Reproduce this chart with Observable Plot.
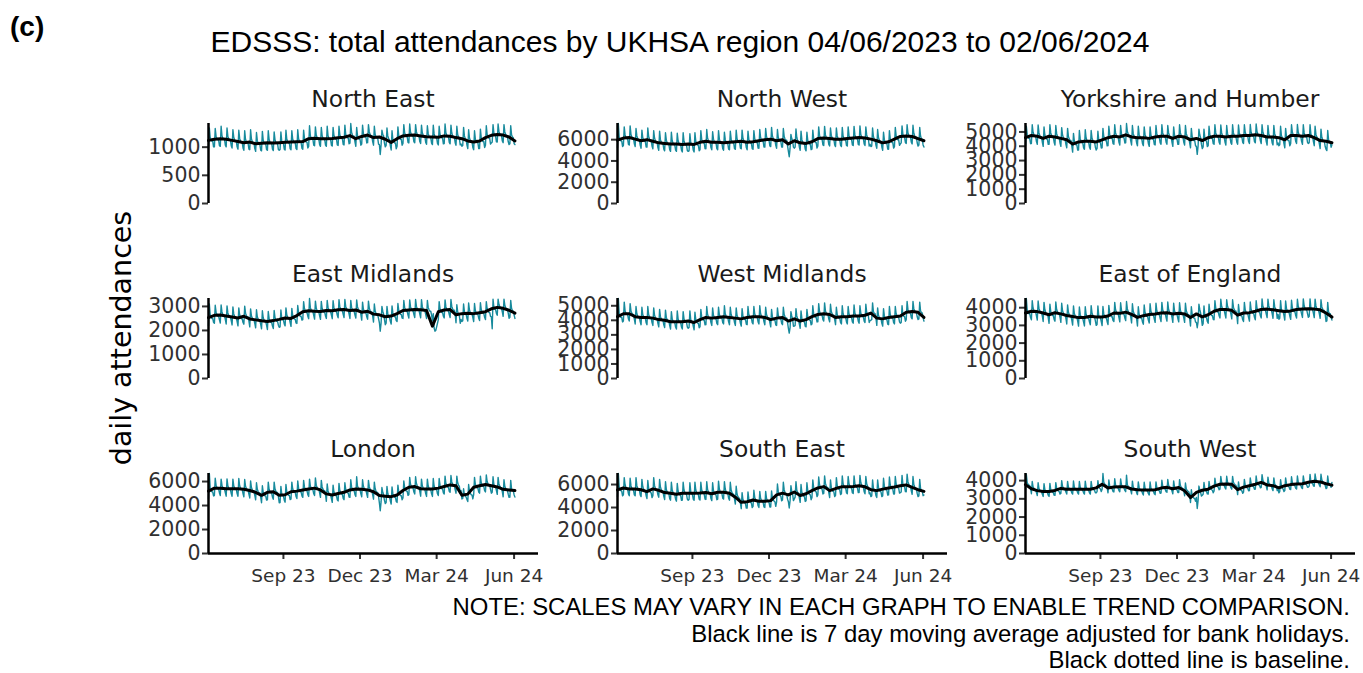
<!DOCTYPE html>
<html>
<head>
<meta charset="utf-8">
<script src="https://cdn.jsdelivr.net/npm/d3@7"></script>
<script src="https://cdn.jsdelivr.net/npm/@observablehq/plot@0.6"></script>
<style>
  html, body { margin: 0; padding: 0; background: #ffffff; }
  #root { position: relative; width: 1363px; height: 673px; overflow: hidden; background: #ffffff; }
  #root svg g[aria-label="y-axis tick"], #root svg g[aria-label="x-axis tick"] { stroke-width: 2px; }
  #root svg .tick line { stroke-width: 2px; }
</style>
</head>
<body>
<div id="root"></div>
<script>
// ---------------- DATA ----------------
const regions = ["North East", "North West", "Yorkshire and Humber",
                 "East Midlands", "West Midlands", "East of England",
                 "London", "South East", "South West"];
const firstDay = "2023-06-04";   // first daily value (Sunday); weekly averages start on the same day, one per week

const northEastDaily = [
985,1340,1175,1130,1110,1110,1005, 1005,1330,1195,1150,1130,1130,1025,
1015,1370,1205,1160,1140,1140,1035, 1005,1340,1195,1150,1130,1130,1025,
985,1310,1175,1130,1110,1110,1005, 965,1300,1155,1110,1090,1090,985,
945,1290,1135,1090,1070,1070,965, 955,1310,1145,1100,1080,1080,975,
925,1260,1115,1070,1050,1050,945, 935,1280,1125,1080,1060,1060,955,
945,1290,1135,1090,1070,1070,965, 940,1270,1130,1085,1065,1065,960,
945,960,1270,1110,1080,1070,965, 950,1300,1140,1095,1075,1075,970,
955,1290,1145,1100,1080,1080,975, 960,1310,1150,1105,1085,1085,980,
965,1300,1155,1110,1090,1090,985, 1015,1380,1205,1160,1140,1140,1035,
1025,1360,1215,1170,1150,1150,1045, 1015,1350,1205,1160,1140,1140,1035,
1015,1370,1205,1160,1140,1140,1035, 1020,1350,1210,1165,1145,1145,1040,
1030,1370,1220,1175,1155,1155,1050, 1040,1390,1230,1185,1165,1165,1060,
1070,1420,1260,1215,1195,1195,1090, 1015,1350,1205,1160,1140,1140,1035,
1055,1390,1245,1200,1180,1180,1075, 1080,1400,1270,1225,1205,1205,1100,
1035,1370,1225,1180,1160,1160,1055, 1045,870,1040,1300,1230,1200,1070,
1005,1030,1340,1200,1150,1130,1025, 950,1290,1140,1095,1075,1075,970,
1015,1360,1205,1160,1140,1140,1035, 1065,1400,1255,1210,1190,1190,1085,
1075,1410,1265,1220,1200,1200,1095, 1080,1400,1270,1225,1205,1205,1100,
1065,1390,1255,1210,1190,1190,1085, 1050,1380,1240,1195,1175,1175,1070,
1045,1390,1235,1190,1170,1170,1065, 1040,1370,1230,1185,1165,1165,1060,
1065,1410,1255,1210,1190,1190,1085, 1060,1390,1250,1205,1185,1185,1080,
1035,1370,1225,1180,1160,1040,1055, 1015,1030,1350,1200,1150,1140,1035,
975,1310,1165,1120,1100,1100,995, 955,1290,1145,1100,1080,1080,975,
975,1320,1165,1120,1100,1100,995, 1035,1380,1225,1180,1160,1160,1055,
1075,1090,1400,1250,1210,1200,1095, 1090,1410,1280,1235,1215,1215,1110,
1080,1400,1270,1225,1205,1205,1100, 1045,1060,1380,1220,1180,1170,1065,
1045];
const northEastAverage = [1120,1140,1150,1140,1120,1100,1080,1090,1060,1070,1080,1075,1080,1085,1090,1095,1100,1150,1160,1150,1150,1155,1165,1175,1205,1150,1190,1215,1170,1180,1140,1085,1150,1200,1210,1215,1200,1185,1180,1175,1200,1195,1170,1150,1110,1090,1110,1170,1210,1225,1215,1180,1110];

const northWestDaily = [
5250,7520,6250,6010,5890,5890,5360, 5450,7200,6450,6210,6090,6090,5560,
5500,7300,6500,6260,6140,6140,5610, 5350,7050,6350,6110,5990,5990,5460,
5200,6900,6200,5960,5840,5840,5310, 5300,7100,6300,6060,5940,5940,5410,
5150,6850,6150,5910,5790,5790,5260, 5000,6800,6000,5760,5640,5640,5110,
4950,6650,5950,5710,5590,5590,5060, 4900,6700,5900,5660,5540,5540,5010,
4900,6600,5900,5660,5540,5540,5010, 4850,6650,5850,5610,5490,5490,4960,
4900,4950,6550,5750,5560,5540,5010, 4850,6650,5850,5610,5490,5490,4960,
5050,6850,6050,5810,5690,5690,5160, 5150,6950,6150,5910,5790,5790,5260,
5050,6750,6050,5810,5690,5690,5160, 5050,6850,6050,5810,5690,5690,5160,
5000,6700,6000,5760,5640,5640,5110, 5050,6800,6050,5810,5690,5690,5160,
5100,6900,6100,5860,5740,5740,5210, 5150,6900,6150,5910,5790,5790,5260,
5050,6800,6050,5810,5690,5690,5160, 5100,6850,6100,5860,5740,5740,5210,
5200,6950,6200,5960,5840,5840,5310, 5300,7050,6300,6060,5940,5940,5410,
5350,7150,6350,6110,5990,5990,5460, 5200,6950,6200,5960,5840,5840,5310,
5300,7050,6300,6060,5940,5940,5410, 4900,4400,5200,6500,6100,5900,5300,
5200,5300,7000,6200,5900,5840,5310, 5000,6800,6000,5760,5640,5640,5110,
4950,6700,5950,5710,5590,5590,5060, 5100,6900,6100,5860,5740,5740,5210,
5400,7200,6400,6160,6040,6040,5510, 5450,7250,6450,6210,6090,6090,5560,
5400,7100,6400,6160,6040,6040,5510, 5350,7100,6350,6110,5990,5990,5460,
5350,7150,6350,6110,5990,5990,5460, 5400,7200,6400,6160,6040,6040,5510,
5450,7250,6450,6210,6090,6090,5560, 5500,7300,6500,6260,6140,6140,5610,
5450,7200,6450,6210,6090,5400,5560, 5350,5400,7100,6300,6050,5990,5460,
5200,6950,6200,5960,5840,5840,5310, 5000,6700,6000,5760,5640,5640,5110,
5100,6850,6100,5860,5740,5740,5210, 5350,7150,6350,6110,5990,5990,5460,
5600,5700,7300,6500,6280,6240,5710, 5650,7400,6650,6410,6290,6290,5760,
5600,7350,6600,6360,6240,6240,5710, 5400,5500,7150,6350,6100,6040,5510,
5300];
const northWestAverage = [5950,6150,6200,6050,5900,6000,5850,5700,5650,5600,5600,5550,5600,5550,5750,5850,5750,5750,5700,5750,5800,5850,5750,5800,5900,6000,6050,5900,6000,5600,5900,5700,5650,5800,6100,6150,6100,6050,6050,6100,6150,6200,6150,6050,5900,5700,5800,6050,6300,6350,6300,6100,5900];

const yorkshireDaily = [
4040,5400,4830,4650,4550,4550,4180, 4190,5500,4980,4800,4700,4700,4330,
4140,5480,4930,4750,4650,4650,4280, 3990,5350,4780,4600,4500,4500,4130,
4140,5500,4930,4750,4650,4650,4280, 4090,5450,4880,4700,4600,4600,4230,
3990,5300,4780,4600,4500,4500,4130, 3890,5250,4680,4500,4400,4400,4030,
3590,4900,4380,4200,4100,4100,3730, 3740,5100,4530,4350,4250,4250,3880,
3790,5150,4580,4400,4300,4300,3930, 3790,5100,4580,4400,4300,4300,3930,
3740,3850,5050,4450,4280,4250,3880, 3890,5250,4680,4500,4400,4400,4030,
4040,5400,4830,4650,4550,4550,4180, 4140,5500,4930,4750,4650,4650,4280,
4090,5450,4880,4700,4600,4600,4230, 4240,5590,5030,4850,4750,4750,4380,
4090,5450,4880,4700,4600,4600,4230, 4040,5400,4830,4650,4550,4550,4180,
4040,5350,4830,4650,4550,4550,4180, 3990,5350,4780,4600,4500,4500,4130,
4090,5450,4880,4700,4600,4600,4230, 4140,5500,4930,4750,4650,4650,4280,
4140,5450,4930,4750,4650,4650,4280, 3990,5350,4780,4600,4500,4500,4130,
4140,5500,4930,4750,4650,4650,4280, 4090,5450,4880,4700,4600,4600,4230,
3890,5250,4680,4500,4400,4400,4030, 3990,3430,4000,5200,4800,4600,4130,
3840,3950,5200,4600,4400,4350,3980, 4040,5400,4830,4650,4550,4550,4180,
4140,5500,4930,4750,4650,4650,4280, 4140,5480,4930,4750,4650,4650,4280,
4090,5450,4880,4700,4600,4600,4230, 4140,5500,4930,4750,4650,4650,4280,
4140,5480,4930,4750,4650,4650,4280, 4190,5500,4980,4800,4700,4700,4330,
4190,5520,4980,4800,4700,4700,4330, 4240,5550,5030,4850,4750,4750,4380,
4190,5500,4980,4800,4700,4700,4330, 4090,5450,4880,4700,4600,4600,4230,
4090,5450,4880,4700,4600,4100,4230, 4040,4100,5400,4750,4600,4550,4180,
3890,5250,4680,4500,4400,4400,4030, 4190,5500,4980,4800,4700,4700,4330,
4190,5520,4980,4800,4700,4700,4330, 4140,5500,4930,4750,4650,4650,4280,
4190,4250,5500,4850,4720,4700,4330, 4040,5400,4830,4650,4550,4550,4180,
3840,5200,4630,4450,4350,4350,3980, 3790,3700,5100,4450,4320,4300,3930,
4100];
const yorkshireAverage = [4600,4750,4700,4550,4700,4650,4550,4450,4150,4300,4350,4350,4300,4450,4600,4700,4650,4800,4650,4600,4600,4550,4650,4700,4700,4550,4700,4650,4450,4550,4400,4600,4700,4700,4650,4700,4700,4750,4750,4800,4750,4650,4650,4600,4450,4750,4750,4700,4750,4600,4400,4350,4250];

const eastMidlandsDaily = [
2200,3100,2660,2560,2500,2500,2340, 2300,3050,2760,2660,2600,2600,2440,
2310,3060,2770,2670,2610,2610,2450, 2270,3020,2730,2630,2570,2570,2410,
2230,2980,2690,2590,2530,2530,2370, 2190,2940,2650,2550,2490,2490,2330,
2260,3010,2720,2620,2560,2560,2400, 2150,2900,2610,2510,2450,2450,2290,
2110,2860,2570,2470,2410,2410,2250, 2070,2820,2530,2430,2370,2370,2210,
2040,2790,2500,2400,2340,2340,2180, 2080,2830,2540,2440,2380,2380,2220,
2130,2150,2850,2520,2450,2430,2270, 2190,2940,2650,2550,2490,2490,2330,
2170,2920,2630,2530,2470,2470,2310, 2290,3040,2750,2650,2590,2590,2430,
2450,3200,2910,2810,2750,2750,2590, 2490,3330,2950,2850,2790,2790,2630,
2470,3220,2930,2830,2770,2770,2610, 2460,3210,2920,2820,2760,2760,2600,
2500,3250,2960,2860,2800,2800,2640, 2490,3240,2950,2850,2790,2790,2630,
2530,3280,2990,2890,2830,2830,2670, 2540,3290,3000,2900,2840,2840,2680,
2500,3250,2960,2860,2800,2800,2640, 2520,3270,2980,2880,2820,2820,2660,
2430,3180,2890,2790,2730,2730,2570, 2470,3220,2930,2830,2770,2770,2610,
2350,3100,2810,2710,2650,2650,2490, 2320,1970,2300,3000,2800,2680,2460,
2240,2300,3000,2700,2560,2540,2380, 2270,3020,2730,2630,2570,2570,2410,
2370,3120,2830,2730,2670,2670,2510, 2500,3250,2960,2860,2800,2800,2640,
2520,3270,2980,2880,2820,2820,2660, 2540,3290,3000,2900,2840,2840,2680,
2530,3280,2990,2890,2830,2830,2670, 2500,3250,2960,2860,2800,2800,2640,
2400,2700,2100,1970,2000,2150,2300, 2450,3200,2910,2810,2750,2750,2590,
2520,3270,2980,2880,2820,2820,2660, 2540,3290,3000,2900,2840,2840,2680,
2320,3070,2780,2680,2620,2300,2460, 2370,2400,3100,2780,2700,2670,2510,
2390,3140,2850,2750,2690,2690,2530, 2370,3120,2830,2730,2670,2670,2510,
2410,3160,2870,2770,2710,2710,2550, 2450,3200,2910,2810,2750,2750,2590,
2570,2070,3300,2960,2890,2870,2710, 2630,3300,3090,2990,2930,2930,2770,
2590,3300,3050,2950,2890,2890,2730, 2510,2550,3250,2920,2830,2810,2650,
2500];
const eastMidlandsAverage = [2530,2630,2640,2600,2560,2520,2590,2480,2440,2400,2370,2410,2460,2520,2500,2620,2780,2820,2800,2790,2830,2820,2860,2870,2830,2850,2760,2800,2680,2650,2570,2600,2700,2830,2850,2870,2860,2830,2180,2780,2850,2870,2650,2700,2720,2700,2740,2780,2900,2960,2920,2840,2720];

const westMidlandsDaily = [
3750,5500,4450,4290,4210,4210,3890, 3950,5250,4650,4490,4410,4410,4090,
3950,5150,4650,4490,4410,4410,4090, 3750,4950,4450,4290,4210,4210,3890,
3700,4900,4400,4240,4160,4160,3840, 3700,4950,4400,4240,4160,4160,3840,
3650,4850,4350,4190,4110,4110,3790, 3550,4750,4250,4090,4010,4010,3690,
3500,4700,4200,4040,3960,3960,3640, 3400,4600,4100,3940,3860,3860,3540,
3400,4650,4100,3940,3860,3860,3540, 3400,4600,4100,3940,3860,3860,3540,
3450,3500,4650,4050,3930,3910,3590, 3350,4550,4050,3890,3810,3810,3490,
3550,4750,4250,4090,4010,4010,3690, 3700,4950,4400,4240,4160,4160,3840,
3650,4850,4350,4190,4110,4110,3790, 3700,4900,4400,4240,4160,4160,3840,
3750,5000,4450,4290,4210,4210,3890, 3700,4900,4400,4240,4160,4160,3840,
3650,4850,4350,4190,4110,4110,3790, 3600,4800,4300,4140,4060,4060,3740,
3700,4950,4400,4240,4160,4160,3840, 3750,4950,4450,4290,4210,4210,3890,
3750,5000,4450,4290,4210,4210,3890, 3700,4900,4400,4240,4160,4160,3840,
3550,4750,4250,4090,4010,4010,3690, 3650,4850,4350,4190,4110,4110,3790,
3700,4900,4400,4240,4160,4160,3840, 3450,3120,3500,4600,4300,4100,3590,
3600,3650,4800,4300,4100,4060,3740, 3450,4650,4150,3990,3910,3910,3590,
3550,4750,4250,4090,4010,4010,3690, 3750,5000,4450,4290,4210,4210,3890,
3900,5150,4600,4440,4360,4360,4040, 3950,5200,4650,4490,4410,4410,4090,
3900,5100,4600,4440,4360,4360,4040, 3700,4900,4400,4240,4160,4160,3840,
3750,5000,4450,4290,4210,4210,3890, 3750,4950,4450,4290,4210,4210,3890,
3800,5050,4500,4340,4260,4260,3940, 3800,5000,4500,4340,4260,4260,3940,
3850,5100,4550,4390,4310,3850,3990, 4000,4050,5200,4600,4480,4460,4140,
3650,4850,4350,4190,4110,4110,3790, 3600,4800,4300,4140,4060,4060,3740,
3700,4950,4400,4240,4160,4160,3840, 3750,4950,4450,4290,4210,4210,3890,
3800,3850,5000,4400,4280,4260,3940, 4050,5300,4750,4590,4510,4510,4190,
4100,5300,4800,4640,4560,4560,4240, 4050,4100,5250,4650,4530,4510,4190,
3950];
const westMidlandsAverage = [4250,4450,4450,4250,4200,4200,4150,4050,4000,3900,3900,3900,3950,3850,4050,4200,4150,4200,4250,4200,4150,4100,4200,4250,4250,4200,4050,4150,4200,3950,4100,3950,4050,4250,4400,4450,4400,4200,4250,4250,4300,4300,4350,4500,4150,4100,4200,4250,4300,4550,4600,4550,4200];

const eastEnglandDaily = [
3220,4520,3880,3740,3660,3660,3440, 3320,4400,3980,3840,3760,3760,3540,
3300,4380,3960,3820,3740,3740,3520, 3220,4300,3880,3740,3660,3660,3440,
3120,4200,3780,3640,3560,3560,3340, 3240,4320,3900,3760,3680,3680,3460,
3170,4250,3830,3690,3610,3610,3390, 3080,4160,3740,3600,3520,3520,3300,
3020,4100,3680,3540,3460,3460,3240, 2960,4040,3620,3480,3400,3400,3180,
2970,4050,3630,3490,3410,3410,3190, 3040,4120,3700,3560,3480,3480,3260,
3000,3050,4100,3560,3460,3440,3220, 2990,4070,3650,3510,3430,3430,3210,
3050,4130,3710,3570,3490,3490,3270, 3220,4300,3880,3740,3660,3660,3440,
3200,4280,3860,3720,3640,3640,3420, 3270,4350,3930,3790,3710,3710,3490,
3140,4220,3800,3660,3580,3580,3360, 2970,4050,3630,3490,3410,3410,3190,
3070,4150,3730,3590,3510,3510,3290, 3140,4220,3800,3660,3580,3580,3360,
3170,4250,3830,3690,3610,3610,3390, 3220,4300,3880,3740,3660,3660,3440,
3240,4320,3900,3760,3680,3680,3460, 3170,4250,3830,3690,3610,3610,3390,
3200,4280,3860,3720,3640,3640,3420, 3170,4250,3830,3690,3610,3610,3390,
2970,4050,3630,3490,3410,3410,3190, 3170,2870,3200,4200,3900,3700,3390,
3000,3100,4100,3600,3450,3440,3220, 3120,4200,3780,3640,3560,3560,3340,
3320,4400,3980,3840,3760,3760,3540, 3420,4480,4080,3940,3860,3860,3640,
3420,4450,4080,3940,3860,3860,3640, 3370,4450,4030,3890,3810,3810,3590,
3100,4180,3760,3620,3540,3540,3320, 3220,4300,3880,3740,3660,3660,3440,
3240,4320,3900,3760,3680,3680,3460, 3320,4400,3980,3840,3760,3760,3540,
3420,4500,4080,3940,3860,3860,3640, 3440,4480,4100,3960,3880,3880,3660,
3400,4450,4060,3920,3840,3400,3620, 3350,3400,4400,3900,3800,3790,3570,
3300,4380,3960,3820,3740,3740,3520, 3340,4420,4000,3860,3780,3780,3560,
3420,4480,4080,3940,3860,3860,3640, 3450,4500,4110,3970,3890,3890,3670,
3460,3500,4500,4000,3920,3900,3680, 3440,4480,4100,3960,3880,3880,3660,
3400,4450,4060,3920,3840,3840,3620, 3220,3250,4300,3760,3680,3660,3440,
3300];
const eastEnglandAverage = [3700,3800,3780,3700,3600,3720,3650,3560,3500,3440,3450,3520,3480,3470,3530,3700,3680,3750,3620,3450,3550,3620,3650,3700,3720,3650,3680,3650,3450,3650,3480,3600,3800,3900,3900,3850,3580,3700,3720,3800,3900,3920,3880,3830,3780,3820,3900,3930,3940,3920,3880,3700,3470];

const londonDaily = [
4580,6670,5450,5260,5150,5140,4800, 4830,6270,5700,5510,5400,5390,5050,
4830,6200,5700,5510,5400,5390,5050, 4780,6220,5650,5460,5350,5340,5000,
4780,6200,5650,5460,5350,5340,5000, 4780,6250,5650,5460,5350,5340,5000,
4730,6170,5600,5410,5300,5290,4950, 4630,6050,5500,5310,5200,5190,4850,
4480,5900,5350,5160,5050,5040,4700, 4230,5650,5100,4910,4800,4790,4450,
4480,5950,5350,5160,5050,5040,4700, 4530,5950,5400,5210,5100,5090,4750,
4230,4250,5600,4950,4820,4790,4450, 4280,5750,5150,4960,4850,4840,4500,
4530,5950,5400,5210,5100,5090,4750, 4580,6050,5450,5260,5150,5140,4800,
4680,6100,5550,5360,5250,5240,4900, 4760,6200,5630,5440,5330,5320,4980,
4830,6300,5700,5510,5400,5390,5050, 4680,6100,5550,5360,5250,5240,4900,
4350,5800,5220,5030,4920,4910,4570, 4260,5700,5130,4940,4830,4820,4480,
4380,5850,5250,5060,4950,4940,4600, 4480,5900,5350,5160,5050,5040,4700,
4680,6150,5550,5360,5250,5240,4900, 4760,6400,5630,5440,5330,5320,4980,
4730,6150,5600,5410,5300,5290,4950, 4680,6100,5550,5360,5250,5240,4900,
4530,5950,5400,5210,5100,5090,4750, 4210,3570,4300,5500,5100,4900,4430,
4160,4250,5600,5000,4750,4720,4380, 4120,5550,4990,4800,4690,4680,4340,
4260,5700,5130,4940,4830,4820,4480, 4630,6050,5500,5310,5200,5190,4850,
4900,6350,5770,5580,5470,5460,5120, 4960,6400,5830,5640,5530,5520,5180,
4780,6200,5650,5460,5350,5340,5000, 4760,6200,5630,5440,5330,5320,4980,
4760,6250,5630,5440,5330,5320,4980, 4830,6250,5700,5510,5400,5390,5050,
4960,6450,5830,5640,5530,5520,5180, 5100,6500,5970,5780,5670,5660,5320,
5030,6450,5900,5710,5600,5000,5250, 4550,4600,5400,4900,4800,4700,4500,
4330,5750,5200,5010,4900,4890,4550, 4900,6350,5770,5580,5470,5460,5120,
5030,6450,5900,5710,5600,5590,5250, 5130,6550,6000,5810,5700,5690,5350,
5030,5100,6400,5750,5620,5590,5250, 4930,6350,5800,5610,5500,5490,5150,
4730,6150,5600,5410,5300,5290,4950, 4680,4700,6100,5400,5270,5240,4900,
4700];
const londonAverage = [5200,5450,5450,5400,5400,5400,5350,5250,5100,4850,5100,5150,4850,4900,5150,5200,5300,5380,5450,5300,4970,4880,5000,5100,5300,5380,5350,5300,5150,4830,4780,4740,4880,5250,5520,5580,5400,5380,5380,5450,5580,5720,5650,4850,4950,5520,5650,5750,5650,5550,5350,5300,5250];

const southEastDaily = [
4930,6960,5810,5580,5470,5430,5010, 5100,6600,5980,5750,5640,5600,5180,
5020,6550,5900,5670,5560,5520,5100, 5020,6600,5900,5670,5560,5520,5100,
4950,6450,5830,5600,5490,5450,5030, 4780,6350,5660,5430,5320,5280,4860,
5020,6600,5900,5670,5560,5520,5100, 4900,6450,5780,5550,5440,5400,4980,
4700,6250,5580,5350,5240,5200,4780, 4640,6200,5520,5290,5180,5140,4720,
4550,6100,5430,5200,5090,5050,4630, 4640,6200,5520,5290,5180,5140,4720,
4640,4700,6150,5400,5200,5140,4720, 4640,6200,5520,5290,5180,5140,4720,
4660,6200,5540,5310,5200,5160,4740, 4700,6250,5580,5350,5240,5200,4780,
4600,6150,5480,5250,5140,5100,4680, 4730,6300,5610,5380,5270,5230,4810,
4730,6250,5610,5380,5270,5230,4810, 4640,6200,5520,5290,5180,5140,4720,
4300,5850,5180,4950,4840,4800,4380, 3900,5300,4700,4500,4400,4350,3950,
3950,5350,4750,4550,4450,4400,4000, 4100,5500,4900,4700,4600,4550,4150,
4000,5400,4800,4600,4500,4450,4050, 4000,5400,4800,4600,4500,4450,4050,
4050,5450,4850,4650,4550,4500,4100, 4500,6050,5380,5150,5040,5000,4580,
4650,6200,5530,5300,5190,5150,4730, 4500,3960,4600,5900,5400,5200,4600,
4750,4900,6250,5500,5300,5250,4830, 4450,6000,5330,5100,4990,4950,4530,
4600,6150,5480,5250,5140,5100,4680, 4870,6400,5750,5520,5410,5370,4950,
5100,6650,5980,5750,5640,5600,5180, 5220,6750,6100,5870,5760,5720,5300,
4870,6400,5750,5520,5410,5370,4950, 5050,6600,5930,5700,5590,5550,5130,
5200,6750,6080,5850,5740,5700,5280, 5200,6700,6080,5850,5740,5700,5280,
5220,6750,6100,5870,5760,5720,5300, 5300,6800,6180,5950,5840,5800,5380,
5200,6700,6080,5850,5740,5200,5280, 4950,5000,6400,5700,5500,5450,5030,
4870,6400,5750,5520,5410,5370,4950, 5000,6550,5880,5650,5540,5500,5080,
5100,6650,5980,5750,5640,5600,5180, 5180,6700,6060,5830,5720,5680,5260,
5300,5350,6800,6000,5850,5800,5380, 5370,6900,6250,6020,5910,5870,5450,
5150,6700,6030,5800,5690,5650,5230, 4950,5000,6450,5650,5500,5450,5030,
5100];
const southEastAverage = [5530,5700,5620,5620,5550,5380,5620,5500,5300,5240,5150,5240,5240,5240,5260,5300,5200,5330,5330,5240,4900,4450,4500,4650,4550,4550,4600,5100,5250,5100,5350,5050,5200,5470,5700,5820,5470,5650,5800,5800,5820,5900,5800,5550,5470,5600,5700,5780,5900,5970,5750,5550,5400];

const southWestDaily = [
3510,4350,3890,3800,3750,3720,3580, 3280,3950,3660,3570,3520,3490,3350,
3180,3880,3560,3470,3420,3390,3250, 3130,3830,3510,3420,3370,3340,3200,
3130,3850,3510,3420,3370,3340,3200, 3190,3890,3570,3480,3430,3400,3260,
3300,4000,3680,3590,3540,3510,3370, 3260,3960,3640,3550,3500,3470,3330,
3260,3980,3640,3550,3500,3470,3330, 3260,3950,3640,3550,3500,3470,3330,
3260,3970,3640,3550,3500,3470,3330, 3260,3960,3640,3550,3500,3470,3330,
3330,3400,4000,3650,3580,3540,3400, 3530,4390,3910,3820,3770,3740,3600,
3330,4030,3710,3620,3570,3540,3400, 3380,4100,3760,3670,3620,3590,3450,
3390,4090,3770,3680,3630,3600,3460, 3390,4300,3770,3680,3630,3600,3460,
3270,3970,3650,3560,3510,3480,3340, 3230,3930,3610,3520,3470,3440,3300,
3210,3910,3590,3500,3450,3420,3280, 3210,3920,3590,3500,3450,3420,3280,
3230,3930,3610,3520,3470,3440,3300, 3320,4020,3700,3610,3560,3530,3390,
3360,4060,3740,3650,3600,3570,3430, 3280,3980,3660,3570,3520,3490,3350,
3350,4050,3730,3640,3590,3560,3420, 3170,3870,3550,3460,3410,3380,3240,
2800,3500,3180,3090,3040,3010,2870, 3080,2470,2900,3700,3500,3350,3150,
3200,3250,3900,3580,3450,3410,3270, 3260,3960,3640,3550,3500,3470,3330,
3430,4130,3810,3720,3670,3640,3500, 3530,4230,3910,3820,3770,3740,3600,
3540,4240,3920,3830,3780,3750,3610, 3530,4230,3910,3820,3770,3740,3600,
3230,3930,3610,3520,3470,3440,3300, 3370,4070,3750,3660,3610,3580,3440,
3450,4150,3830,3740,3690,3660,3520, 3530,4250,3910,3820,3770,3740,3600,
3630,4330,4010,3920,3870,3840,3700, 3490,4190,3870,3780,3730,3700,3560,
3450,4150,3830,3740,3690,3450,3520, 3330,3400,4050,3700,3580,3540,3400,
3450,4150,3830,3740,3690,3660,3520, 3510,4210,3890,3800,3750,3720,3580,
3540,4250,3920,3830,3780,3750,3610, 3560,4260,3940,3850,3800,3770,3630,
3640,3700,4340,3950,3880,3850,3710, 3690,4360,4070,3980,3930,3900,3760,
3660,4350,4040,3950,3900,3870,3730, 3560,3600,4250,3880,3800,3770,3630,
3900];
const southWestAverage = [3780,3550,3450,3400,3400,3460,3570,3530,3530,3530,3530,3530,3600,3800,3600,3650,3660,3660,3540,3500,3480,3480,3500,3590,3630,3550,3620,3440,3070,3350,3470,3530,3700,3800,3810,3800,3500,3640,3720,3800,3900,3760,3720,3600,3720,3780,3810,3830,3910,3960,3930,3830,3750];

// axis ticks and labels
const yTickValues = [
  [0, 500, 1000], [0, 2000, 4000, 6000], [0, 1000, 2000, 3000, 4000, 5000],
  [0, 1000, 2000, 3000], [0, 1000, 2000, 3000, 4000, 5000], [0, 1000, 2000, 3000, 4000],
  [0, 2000, 4000, 6000], [0, 2000, 4000, 6000], [0, 1000, 2000, 3000, 4000]
];
const xTickDates = ["2023-09-01", "2023-12-01", "2024-03-01", "2024-06-01"];
const xTickLabels = ["Sep 23", "Dec 23", "Mar 24", "Jun 24"];

const panelLetter = "(c)";
const titleText = "EDSSS: total attendances by UKHSA region 04/06/2023 to 02/06/2024";
const yAxisTitle = "daily attendances";
const noteLines = [
  "NOTE: SCALES MAY VARY IN EACH GRAPH TO ENABLE TREND COMPARISON.",
  "Black line is 7 day moving average adjusted for bank holidays.",
  "Black dotted line is baseline."
];

const dailySeries = [northEastDaily, northWestDaily, yorkshireDaily, eastMidlandsDaily,
  westMidlandsDaily, eastEnglandDaily, londonDaily, southEastDaily, southWestDaily];
const averageSeries = [northEastAverage, northWestAverage, yorkshireAverage, eastMidlandsAverage,
  westMidlandsAverage, eastEnglandAverage, londonAverage, southEastAverage, southWestAverage];

// ---------------- LAYOUT / STYLE ----------------
const FONT = "'DejaVu Sans', 'Liberation Sans', sans-serif";
const SANS = "'Liberation Sans', Arial, sans-serif";
const TEAL = "#178a9c";
const root = document.getElementById("root");
const DAY = 864e5;
const t0 = new Date(firstDay + "T00:00:00Z");
const xDomain = [t0, new Date("2024-06-30T00:00:00Z")];
const xTicks = xTickDates.map(d => new Date(d + "T00:00:00Z"));
const PW = 330, PH = 80;                  // panel frame size
const colLeft = [208, 617, 1025];
const rowTop = [123, 298, 473];
const ML = 80, MR = 14, MT = 12;

dailySeries.forEach((vals, i) => {
  const c = i % 3, r = Math.floor(i / 3);
  const bottom = r === 2;
  const MB = bottom ? 44 : 4;
  const daily = vals.map((v, j) => ({date: new Date(+t0 + j * DAY), value: v}));
  const avg = averageSeries[i].map((v, k) => ({date: new Date(+t0 + 7 * k * DAY), value: v}));
  const marks = [
    Plot.lineY(daily, {x: "date", y: "value", stroke: TEAL, strokeWidth: 1.4}),
    Plot.lineY(avg, {x: "date", y: "value", stroke: "#000", strokeWidth: 3, strokeLinejoin: "round"}),
    Plot.ruleX([xDomain[0]], {stroke: "#000", strokeWidth: 2.5})
  ];
  if (bottom) marks.push(Plot.ruleY([0], {stroke: "#000", strokeWidth: 2.5}));
  const chart = Plot.plot({
    width: ML + PW + MR, height: MT + PH + MB,
    marginLeft: ML, marginRight: MR, marginTop: MT, marginBottom: MB,
    style: {background: "transparent", fontFamily: FONT, fontSize: "20px", color: "#333", overflow: "visible"},
    x: {type: "utc", domain: xDomain, axis: bottom ? "bottom" : null, ticks: xTicks,
        tickFormat: d => xTickLabels[xTicks.findIndex(t => +t === +d)], tickSize: 6, tickPadding: 9, label: null},
    y: {domain: [0, d3.max(vals)], ticks: yTickValues[i], tickSize: 6, tickPadding: 2,
        tickFormat: d => String(d), label: null},
    marks
  });
  chart.style.position = "absolute";
  chart.style.left = (colLeft[c] - ML) + "px";
  chart.style.top = (rowTop[r] - MT) + "px";
  chart.style.maxWidth = "none";
  chart.style.overflow = "visible";
  chart.querySelectorAll("text").forEach(t => {
    const s = t.textContent.trim();
    t.style.fontSize = /^\d+$/.test(s) ? "20.5px" : "18.5px";
    t.style.fill = "#303030";
  });
  root.appendChild(chart);
});

// ---------------- TEXT OVERLAY ----------------
const overlay = d3.select(root).append("svg")
  .attr("width", 1363).attr("height", 673)
  .style("position", "absolute").style("left", "0px").style("top", "0px")
  .style("pointer-events", "none");

overlay.append("text").attr("x", 10).attr("y", 36)
  .attr("font-family", SANS).attr("font-weight", "bold")
  .attr("font-size", 28).attr("fill", "#000").text(panelLetter);

overlay.append("text").attr("x", 680).attr("y", 52).attr("text-anchor", "middle")
  .attr("font-family", SANS).attr("font-size", 30).attr("fill", "#000").text(titleText);

regions.forEach((name, i) => {
  const c = i % 3, r = Math.floor(i / 3);
  overlay.append("text").attr("x", colLeft[c] + PW / 2).attr("y", rowTop[r] - 16.5)
    .attr("text-anchor", "middle").attr("font-family", FONT).attr("font-size", 23.4)
    .attr("fill", "#1a1a1a").text(name);
});

overlay.append("text").attr("transform", "translate(131,338) rotate(-90)")
  .attr("text-anchor", "middle").attr("font-family", FONT).attr("font-size", 28.5)
  .attr("fill", "#000").text(yAxisTitle);

noteLines.forEach((line, j) => {
  overlay.append("text").attr("x", 1350).attr("y", 615 + 26.5 * j).attr("text-anchor", "end")
    .attr("font-family", SANS).attr("font-size", 23.9).attr("fill", "#000").text(line);
});
</script>
</body>
</html>
